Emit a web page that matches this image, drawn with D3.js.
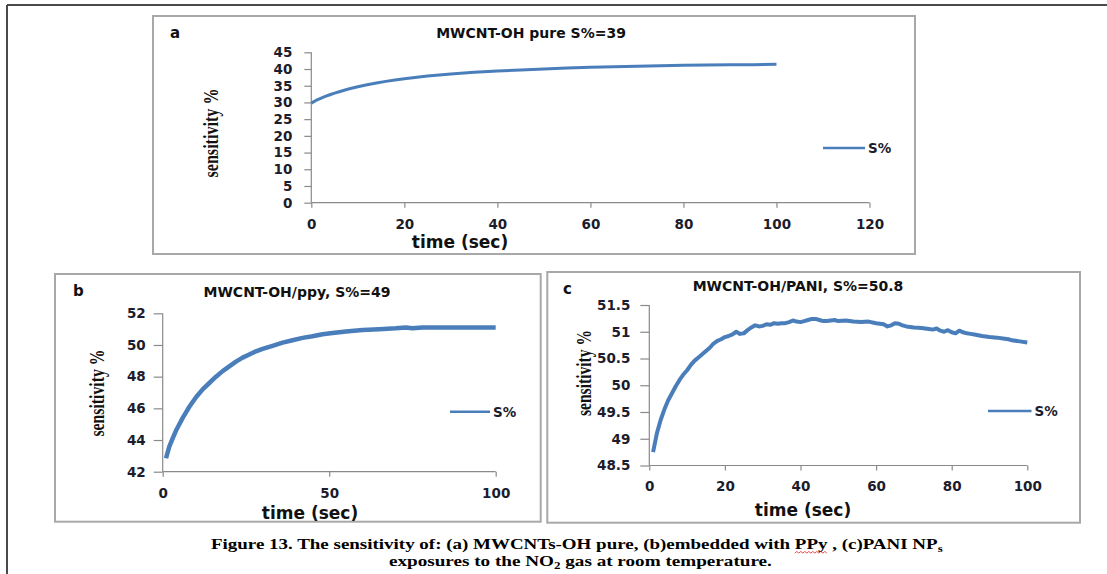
<!DOCTYPE html>
<html>
<head>
<meta charset="utf-8">
<script src="https://cdn.jsdelivr.net/npm/d3@7"></script>
<style>
html,body{margin:0;padding:0;background:#fff;}
svg{display:block;}
</style>
</head>
<body>
<svg id="chart" width="1107" height="574"></svg>
<script>
// ---------------- DATA ----------------
const aTitle = "MWCNT-OH pure S%=39";
const aTime = [0,1,2,3,4,5,6,8,10,12,14,16,18,20,25,30,35,40,45,50,55,60,65,70,75,80,85,90,95,100];
const aSens = [29.8,30.6,31.2,31.8,32.3,32.8,33.2,34.0,34.7,35.3,35.8,36.3,36.7,37.1,37.9,38.5,39.0,39.4,39.7,40.0,40.3,40.5,40.7,40.8,41.0,41.1,41.2,41.3,41.3,41.4];
const aXTicks = [0,20,40,60,80,100,120];
const aYTicks = [0,5,10,15,20,25,30,35,40,45];

const bTitle = "MWCNT-OH/ppy, S%=49";
const bTime = [1,2,3,4,5,6,7,8,9,10,12,14,16,18,20,22,24,26,28,30,33,36,39,42,45,48,51,55,60,65,70,73,75,78,85,90,100];
const bSens = [42.85,43.6,44.1,44.6,45.0,45.4,45.75,46.1,46.4,46.7,47.2,47.6,48.0,48.35,48.65,48.95,49.2,49.4,49.6,49.75,49.95,50.15,50.3,50.45,50.55,50.68,50.75,50.85,50.95,51.0,51.05,51.1,51.05,51.1,51.1,51.1,51.1];
const bXTicks = [0,50,100];
const bYTicks = [42,44,46,48,50,52];

const cTitle = "MWCNT-OH/PANI, S%=50.8";
const cTime = [1,2,3,4,5,6,7,8,9,10,11,12,13,14,15,16,17,18,19,20,21,22,23,24,25,26,27,28,29,30,31,32,33,34,35,36,37,38,39,40,41,42,43,44,45,46,47,48,49,50,52,54,56,58,60,61,62,63,64,65,66,67,68,70,72,74,75,76,77,78,79,80,81,82,83,84,85,86,88,90,92,94,95,96,98,100];
const cSens = [48.75,49.1,49.35,49.55,49.72,49.85,49.98,50.1,50.2,50.28,50.38,50.46,50.52,50.58,50.64,50.7,50.78,50.83,50.86,50.9,50.92,50.95,51.0,50.96,50.97,51.03,51.08,51.12,51.1,51.11,51.14,51.13,51.16,51.15,51.16,51.16,51.18,51.21,51.19,51.18,51.2,51.22,51.24,51.24,51.22,51.2,51.2,51.21,51.22,51.2,51.21,51.19,51.18,51.19,51.16,51.15,51.14,51.1,51.12,51.16,51.15,51.12,51.1,51.08,51.07,51.05,51.04,51.06,51.02,51.0,51.03,50.99,50.97,51.02,50.99,50.97,50.96,50.95,50.92,50.9,50.89,50.87,50.86,50.84,50.82,50.8];
const cXTicks = [0,20,40,60,80,100];
const cYTicks = [48.5,49,49.5,50,50.5,51,51.5];

const legendLabel = "S%";
const yLabel = "sensitivity %";
const xLabel = "time (sec)";
const captionLine1 = "Figure 13. The sensitivity of: (a) MWCNTs-OH pure, (b)embedded with PPy , (c)PANI NP";
const captionLine2 = "exposures to the NO";

// ---------------- DRAW ----------------
const svg = d3.select("#chart");
const BLUE = "#4a7ebb";
const SANS = "'DejaVu Sans', Verdana, sans-serif";
const SERIF = "'Liberation Serif', 'Times New Roman', serif";

// outer frame
svg.append("line").attr("x1",7).attr("x2",1107).attr("y1",5).attr("y2",5).attr("stroke","#4a4a4a").attr("stroke-width",2);
svg.append("line").attr("x1",7).attr("x2",7).attr("y1",5).attr("y2",574).attr("stroke","#4a4a4a").attr("stroke-width",2);

function panel(cfg){
  const g = svg.append("g");
  g.append("rect").attr("x",cfg.box[0]).attr("y",cfg.box[1])
    .attr("width",cfg.box[2]-cfg.box[0]).attr("height",cfg.box[3]-cfg.box[1])
    .attr("fill","#fff").attr("stroke","#a8a8a8").attr("stroke-width",2);

  const x = d3.scaleLinear().domain(cfg.xDomain).range(cfg.xRange);
  const y = d3.scaleLinear().domain(cfg.yDomain).range(cfg.yRange);

  const yAxis = d3.axisLeft(y).tickValues(cfg.yTicks).tickSize(cfg.yTickSize).tickPadding(cfg.yPad).tickFormat(d=>String(d));
  const xAxis = d3.axisBottom(x).tickValues(cfg.xTicks).tickSize(5).tickPadding(cfg.xPad).tickFormat(d=>String(d));

  const ya = g.append("g").attr("transform",`translate(${cfg.xRange[0]},0)`).call(yAxis);
  const xa = g.append("g").attr("transform",`translate(0,${cfg.yRange[0]})`).call(xAxis);
  [ya,xa].forEach(a=>{
    a.select(".domain").attr("stroke","#8a8a8a").attr("stroke-width",1.2);
    a.selectAll(".tick line").attr("stroke","#8a8a8a").attr("stroke-width",1.2);
    a.selectAll(".tick text").attr("fill","#1c1c2c").style("font-family",SANS)
      .style("font-weight","bold").style("font-size",cfg.tickFont+"px");
  });
  ya.select(".domain").attr("d",`M0,${cfg.yRange[0]}V${cfg.yRange[1]}`);
  xa.select(".domain").attr("d",`M${cfg.xRange[0]},0H${cfg.xRange[1]}`);

  const data = cfg.t.map((t,i)=>({t, s:cfg.s[i]}));
  g.append("path").datum(data)
    .attr("fill","none").attr("stroke",BLUE).attr("stroke-width",cfg.lw)
    .attr("stroke-linejoin","round").attr("stroke-linecap","butt")
    .attr("d", d3.line().x(d=>x(d.t)).y(d=>y(d.s)));

  g.append("text").attr("x",cfg.title[0]).attr("y",cfg.title[1]).attr("text-anchor","middle")
    .attr("dominant-baseline","central").style("font-family",SANS).style("font-weight","bold")
    .style("font-size","14px").attr("fill","#111").text(cfg.titleText);
  g.append("text").attr("x",cfg.letter[0]).attr("y",cfg.letter[1])
    .attr("dominant-baseline","central").style("font-family",SANS).style("font-weight","bold")
    .style("font-size","15px").attr("fill","#111").text(cfg.letterText);
  g.append("text").attr("x",cfg.xl[0]).attr("y",cfg.xl[1]).attr("text-anchor","middle")
    .attr("dominant-baseline","central").style("font-family",SANS).style("font-weight","bold")
    .style("font-size","17px").attr("fill","#111").text(xLabel);
  g.append("text").attr("transform",`translate(${cfg.yl[0]},${cfg.yl[1]}) rotate(-90)`)
    .attr("text-anchor","middle").attr("dominant-baseline","central")
    .style("font-family",SERIF).style("font-weight","bold").style("font-size","21px")
    .attr("textLength",cfg.yl[2]).attr("lengthAdjust","spacingAndGlyphs")
    .attr("fill","#111").text(yLabel);
  g.append("line").attr("x1",cfg.leg[0]).attr("x2",cfg.leg[1]).attr("y1",cfg.leg[2]).attr("y2",cfg.leg[2])
    .attr("stroke",BLUE).attr("stroke-width",2.5);
  g.append("text").attr("x",cfg.leg[1]+3).attr("y",cfg.leg[2]).attr("dominant-baseline","central")
    .style("font-family",SANS).style("font-weight","bold").style("font-size","13.5px")
    .attr("fill","#1c1c2c").text(legendLabel);
}

panel({
  box:[153,16,915,254], xDomain:[0,120], xRange:[311.3,869.5], yDomain:[0,45], yRange:[202.7,52.3],
  xTicks:aXTicks, yTicks:aYTicks, yTickSize:7, yPad:12, xPad:12, tickFont:13.5,
  t:aTime, s:aSens, lw:3, title:[531,33], titleText:aTitle, letter:[170,33], letterText:"a",
  xl:[460,241.5], yl:[211,133,89], leg:[823,865,148]
});
panel({
  box:[55,274,540.7,521.7], xDomain:[0,100], xRange:[162.7,495.7], yDomain:[42,52], yRange:[471.7,313.3],
  xTicks:bXTicks, yTicks:bYTicks, yTickSize:9, yPad:8, xPad:12, tickFont:13.5,
  t:bTime, s:bSens, lw:4.5, title:[297,291.5], titleText:bTitle, letter:[73,290.5], letterText:"b",
  xl:[310,512.5], yl:[97,393,87], leg:[450,490,411.7]
});
panel({
  box:[547.3,272,1080,522.7], xDomain:[0,100], xRange:[649.3,1027.3], yDomain:[48.5,51.5], yRange:[465.5,305],
  xTicks:cXTicks, yTicks:cYTicks, yTickSize:9, yPad:10, xPad:11, tickFont:13.5,
  t:cTime, s:cSens, lw:4, title:[798,286], titleText:cTitle, letter:[563,289], letterText:"c",
  xl:[803,510], yl:[584,373,86], leg:[988,1031.5,411]
});

// caption
function captionLine(parts, x0, x1, yb){
  const t = svg.append("text").attr("x",0).attr("y",yb)
    .style("font-family",SERIF).style("font-weight","bold").style("font-size","14px").attr("fill","#000");
  parts.forEach(p=>{
    const ts = t.append("tspan").text(p.text);
    if(p.sub) ts.attr("dy",3).style("font-size","9.5px");
    else if(p.after) ts.attr("dy",-3);
  });
  const w = t.node().getBBox().width;
  const k = (x1-x0)/w;
  t.attr("transform",`translate(${x0},0) scale(${k},1)`);
  return {node:t.node(), k};
}
const c1 = captionLine([{text:captionLine1},{text:"s",sub:true}], 211, 944, 549);
captionLine([{text:captionLine2},{text:"2",sub:true},{text:" gas at room temperature.",after:true}], 389, 772, 566);

// spell-check squiggle under "PPy"
(function(){
  const idx = captionLine1.indexOf("PPy");
  const s = c1.node.getStartPositionOfChar(idx).x;
  const e = c1.node.getEndPositionOfChar(idx+2).x;
  const xs = 211 + s*c1.k, xe = 211 + e*c1.k;
  let d = `M${xs},553`;
  let up = true;
  for(let xx=xs+2; xx<=xe; xx+=2){ d += `L${xx},${up?551.5:553}`; up=!up; }
  svg.append("path").attr("d",d).attr("fill","none").attr("stroke","#e02020").attr("stroke-width",0.8);
})();
</script>
</body>
</html>
